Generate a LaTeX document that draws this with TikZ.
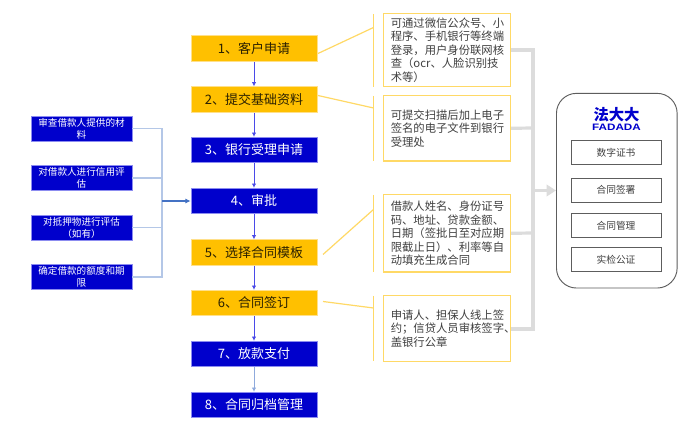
\documentclass[tikz,border=0pt]{standalone}
\usepackage{fontspec}
\setmainfont{Noto Sans CJK SC}
\newfontfamily\logolat{Liberation Sans}[FakeStretch=1.25]
\usetikzlibrary{arrows.meta,calc}
\definecolor{flowblue}{HTML}{0000CC}
\definecolor{flowedge}{HTML}{8C8CF0}
\definecolor{flowamber}{HTML}{FFC000}
\definecolor{amberedge}{HTML}{FFE08A}
\definecolor{calloutedge}{HTML}{FFD966}
\definecolor{arrowblue}{HTML}{4A4AE8}
\definecolor{buslight}{HTML}{B4C7E7}
\definecolor{busblue}{HTML}{8FAADC}
\definecolor{busdark}{HTML}{4472C4}
\definecolor{railgray}{HTML}{DCDCDC}
\definecolor{darktext}{HTML}{404040}
\definecolor{amberink}{HTML}{2A2000}
\tikzset{
  x=0.75pt,y=-0.75pt,
  flowbase/.style={minimum width=94.5pt,minimum height=19.2pt,inner sep=0pt,line width=0.6pt,font=\fontsize{9.75pt}{11pt}\selectfont,anchor=center},
  bluebox/.style={flowbase,fill=flowblue,draw=flowedge,text=white},
  amberbox/.style={flowbase,fill=flowamber,draw=amberedge,text=amberink},
  sidebox/.style={minimum width=75.5pt,minimum height=18.8pt,inner sep=0pt,fill=flowblue,draw=flowedge,line width=0.5pt,text=white,align=center,font=\fontsize{7.2pt}{9pt}\selectfont},
  callout/.style={draw=calloutedge,line width=0.9pt,inner xsep=5.2pt,inner ysep=0pt,align=left,text=darktext,minimum width=95pt,text width=84.6pt,font=\fontsize{8.5pt}{10.15pt}\selectfont},
  bracket/.style={draw=calloutedge,line width=0.8pt},
  leader/.style={draw=calloutedge,line width=0.9pt},
  flowarrow/.style={draw=arrowblue,line width=0.7pt,-{Latex[length=3.2pt,width=3.4pt]}},
  sideline/.style={draw=buslight,line width=0.9pt},
  rail/.style={draw=railgray,line width=2.4pt},
  platebox/.style={draw=darktext!85,line width=0.6pt,minimum width=67.5pt,minimum height=18pt,inner sep=0pt,text=darktext,font=\fontsize{7.3pt}{9pt}\selectfont},
}
\begin{document}
\begin{tikzpicture}
\useasboundingbox (0,0) rectangle (700,438);
\fill[white] (0,0) rectangle (700,438);
% main flow
\node[amberbox] (b1) at (254,48.5) {1、客户申请};
\node[amberbox] (b2) at (254,99.5) {2、提交基础资料};
\node[bluebox] (b3) at (254,150) {3、银行受理申请};
\node[bluebox] (b4) at (254,201) {4、审批};
\node[amberbox] (b5) at (254,252.5) {5、选择合同模板};
\node[amberbox] (b6) at (254,303) {6、合同签订};
\node[bluebox] (b7) at (254,354) {7、放款支付};
\node[bluebox] (b8) at (254,405) {8、合同归档管理};
\draw[flowarrow] (b1) -- (b2);
\draw[flowarrow] (b2) -- (b3);
\draw[flowarrow] (b3) -- (b4);
\draw[flowarrow] (b4) -- (b5);
\draw[flowarrow] (b5) -- (b6);
\draw[flowarrow] (b6) -- (b7);
\draw[flowarrow,draw=busblue] (b7) -- (b8);
% left checks
\node[sidebox] (s1) at (81.5,128.5) {审查借款人提供的材\\料};
\node[sidebox] (s2) at (81.5,178) {对借款人进行信用评\\估};
\node[sidebox] (s3) at (81.5,227.5) {对抵押物进行评估\\（如有）};
\node[sidebox] (s4) at (81.5,277) {确定借款的额度和期\\限};
\coordinate (bus) at (162,201);
\draw[sideline] (s1.east) -| (bus);
\draw[sideline] (s2.east) -| (bus);
\draw[sideline] (s3.east) -| (bus);
\draw[sideline] (s4.east) -| (bus);
\draw[draw=busdark,line width=0.8pt,-{Latex[length=4pt,width=4pt]}] (bus) -- (b4.west);
% callouts
\node[callout,minimum height=54.8pt] (c1) at (447.2,50) {可通过微信公众号、小\\程序、手机银行等终端\\登录，用户身份联网核\\查（ocr、人脸识别技\\术等）};
\node[callout,minimum height=49pt] (c2) at (447.2,128.3) {可提交扫描后加上电子\\签名的电子文件到银行\\受理处\\[2pt]};
\node[callout,minimum height=58pt] (c3) at (447.2,233.3) {借款人姓名、身份证号\\码、地址、贷款金额、\\日期（签批日至对应期\\限截止日）、利率等自\\动填充生成合同};
\node[callout,minimum height=49pt] (c4) at (447.2,328.5) {申请人、担保人线上签\\约；信贷人员审核签字、\\盖银行公章};
% brackets and leaders
\coordinate (t1) at (373.5,14); \coordinate (m1) at (373.5,27.5); \coordinate (e1) at (373.5,87);
\coordinate (t2) at (373.5,96); \coordinate (m2) at (373.5,108); \coordinate (e2) at (373.5,161);
\coordinate (t3) at (373.5,195); \coordinate (m3) at (373.5,209.5); \coordinate (e3) at (373.5,272);
\coordinate (t4) at (373.5,296); \coordinate (m4) at (373.5,308); \coordinate (e4) at (373.5,361);
\draw[bracket] (t1) -- (e1);
\draw[bracket] (t2) -- (e2);
\draw[bracket] (t3) -- (e3);
\draw[bracket] (t4) -- (e4);
\coordinate (f1) at (318,53.5); \coordinate (f2) at (318,95.5);
\coordinate (f3) at (323,254.5); \coordinate (f4) at (323,301.5);
\draw[leader] (f1) -- (m1);
\draw[leader] (f2) -- (m2);
\draw[leader] (f3) -- (m3);
\draw[leader] (f4) -- (m4);
% platform
\node[draw=darktext!85,line width=0.7pt,rounded corners=15pt,minimum width=90.5pt,minimum height=146pt,inner sep=0pt] (plate) at (616.8,190.7) {};
\node[platebox] (p1) at (616,152.5) {数字证书};
\node[platebox] (p2) at (616,190) {合同签署};
\node[platebox] (p3) at (616,225.5) {合同管理};
\node[platebox] (p4) at (616,259.7) {实检公证};
\node[text=flowblue,inner sep=0pt,font=\fontsize{11.5pt}{13pt}\selectfont\bfseries] (logo) at (616.5,114.5) {法大大};
\node[text=flowblue,inner sep=0pt,font=\logolat\fontsize{7pt}{8pt}\selectfont\bfseries] (logob) at (616.5,127) {FADADA};
% gray rail
\coordinate (rt) at (533,50);
\coordinate (rb) at (533,329);
\coordinate (rm) at (533,190.5);
\coordinate (r2) at (533,128);
\coordinate (r3) at (533,233);
\draw[rail] (c1.east |- rt) -- (rt) -- (rb) -- (c4.east |- rb);
\draw[rail] (c2.east) -- (r2);
\draw[rail] (c3.east) -- (r3);
\draw[rail,-{Triangle[length=7pt,width=8.5pt]}] (rm) -- (plate.west |- rm);
\end{tikzpicture}
\end{document}
